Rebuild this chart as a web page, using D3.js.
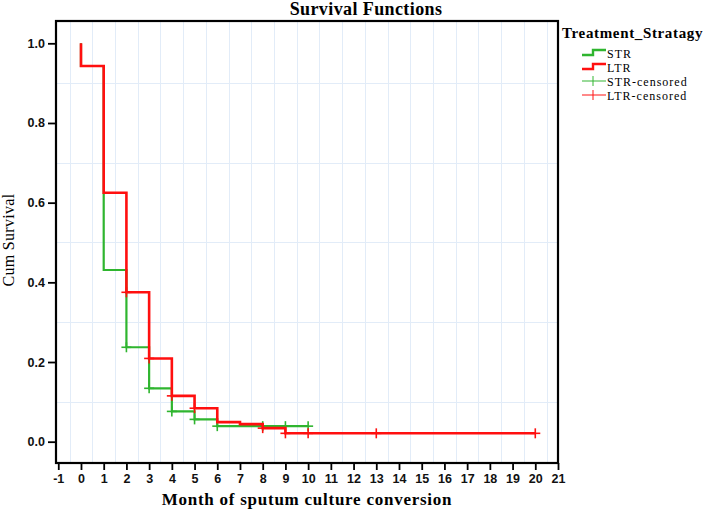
<!DOCTYPE html>
<html>
<head>
<meta charset="utf-8">
<script src="https://cdn.jsdelivr.net/npm/d3@7"></script>
<style>
  body { margin: 0; background: #fff; }
  svg { display: block; }
</style>
</head>
<body>
<svg></svg>
<script>
const svgWidth = 706,
  svgHeight = 513,
  plot = {left: 56, top: 21, right: 558, bottom: 463},
  strColor = '#2fb52f',
  ltrColor = '#ff0f0f',
  gridColor = '#e2ecf8',
  serif = 'Liberation Serif, Times New Roman, serif',
  sans = 'Liberation Sans, Arial, sans-serif';

// event times (months) and survival right after each step
const eventTimes = [0, 1, 2, 3, 4, 5, 6, 7, 8, 9];
const strSurvival = [0.943, 0.431, 0.237, 0.134, 0.076, 0.056, 0.039, 0.039, 0.039, 0.039];
const ltrSurvival = [0.943, 0.625, 0.375, 0.209, 0.115, 0.084, 0.049, 0.044, 0.034, 0.021];
const strLastTime = 10;
const ltrLastTime = 20;
const strCensored = [2, 3, 4, 5, 6, 8, 9, 10];
const ltrCensored = [2, 3, 4, 5, 8, 9, 10, 13, 20];

const xTicks = d3.range(-1, 22);
const yTicks = [0, 0.2, 0.4, 0.6, 0.8, 1.0];
const xGrid = d3.range(-0.5, 21, 1);
const yGrid = [0.1, 0.3, 0.5, 0.7, 0.9];

const legendTitle = 'Treatment_Stratagy';
const legendItems = ['STR', 'LTR', 'STR-censored', 'LTR-censored'];

const x = d3.scaleLinear().domain([-1.1, 21]).range([plot.left, plot.right]);
const y = d3.scaleLinear().domain([-0.0535, 1.056]).range([plot.bottom, plot.top]);

const svg = d3.select('svg')
  .attr('width', svgWidth)
  .attr('height', svgHeight);

//grid lines, offset half a unit from ticks like SPSS does
const grid = svg.append('g').attr('stroke', gridColor).attr('stroke-width', 1);
grid.selectAll('.vgrid').data(xGrid).enter().append('line')
  .attr('x1', d => Math.round(x(d)) + 0.5).attr('x2', d => Math.round(x(d)) + 0.5)
  .attr('y1', plot.top).attr('y2', plot.bottom);
grid.selectAll('.hgrid').data(yGrid).enter().append('line')
  .attr('y1', d => Math.round(y(d)) + 0.5).attr('y2', d => Math.round(y(d)) + 0.5)
  .attr('x1', plot.left).attr('x2', plot.right);

function stepPoints(surv, lastTime) {
  const pts = [[eventTimes[0], 1]];
  eventTimes.forEach((t, i) => pts.push([t, surv[i]]));
  pts.push([lastTime, surv[surv.length - 1]]);
  return pts;
}

function survAt(surv, t) {
  let s = 1;
  eventTimes.forEach((e, i) => { if (e <= t) s = surv[i]; });
  return s;
}

const line = d3.line()
  .x(d => x(d[0]))
  .y(d => y(d[1]))
  .curve(d3.curveStepAfter);

const series = [
  {name: 'STR', surv: strSurvival, last: strLastTime, cens: strCensored, color: strColor, width: 2.2},
  {name: 'LTR', surv: ltrSurvival, last: ltrLastTime, cens: ltrCensored, color: ltrColor, width: 2.6}
];

series.forEach(s => {
  const g = svg.append('g');
  g.append('path')
    .attr('d', line(stepPoints(s.surv, s.last)))
    .attr('fill', 'none')
    .attr('stroke', s.color)
    .attr('stroke-width', s.width);
  const marks = g.selectAll('.cens').data(s.cens).enter().append('g')
    .attr('transform', d => `translate(${x(d)},${y(survAt(s.surv, d))})`)
    .attr('stroke', s.color)
    .attr('stroke-width', 1.6);
  marks.append('line').attr('x1', -5).attr('x2', 5);
  marks.append('line').attr('y1', -5).attr('y2', 5);
});

//frame
svg.append('rect')
  .attr('x', plot.left).attr('y', plot.top)
  .attr('width', plot.right - plot.left).attr('height', plot.bottom - plot.top)
  .attr('fill', 'none').attr('stroke', '#000').attr('stroke-width', 2.2);

//axes
const xAxis = svg.append('g')
  .attr('transform', `translate(0,${plot.bottom})`)
  .call(d3.axisBottom(x).tickValues(xTicks).tickSize(7).tickPadding(4).tickFormat(d => String(d)));
const yAxis = svg.append('g')
  .attr('transform', `translate(${plot.left},0)`)
  .call(d3.axisLeft(y).tickValues(yTicks).tickSize(8).tickPadding(3).tickFormat(d => d.toFixed(1)));
[xAxis, yAxis].forEach(a => {
  a.select('.domain').remove();
  a.selectAll('.tick line').attr('stroke', '#000').attr('stroke-width', 1.8);
  a.selectAll('.tick text')
    .attr('fill', '#111')
    .style('font-family', sans)
    .style('font-weight', 'bold')
    .style('font-size', '12.5px');
});

//titles
svg.append('text')
  .attr('x', 366).attr('y', 15)
  .attr('text-anchor', 'middle')
  .style('font-family', serif).style('font-weight', 'bold').style('font-size', '18px')
  .style('letter-spacing', '0.4px')
  .text('Survival Functions');

svg.append('text')
  .attr('x', (plot.left + plot.right) / 2).attr('y', 505)
  .attr('text-anchor', 'middle')
  .style('font-family', serif).style('font-weight', 'bold').style('font-size', '17px')
  .style('letter-spacing', '0.75px')
  .text('Month of sputum culture conversion');

svg.append('text')
  .attr('transform', `translate(14,${(plot.top + plot.bottom) / 2 - 2}) rotate(-90)`)
  .attr('text-anchor', 'middle')
  .style('font-family', serif).style('font-size', '16px')
  .style('letter-spacing', '0.3px')
  .text('Cum Survival');

//legend
const legend = svg.append('g').attr('transform', 'translate(562,0)');
legend.append('text')
  .attr('x', 0).attr('y', 38)
  .style('font-family', serif).style('font-weight', 'bold').style('font-size', '15px')
  .style('letter-spacing', '0.65px')
  .text(legendTitle);

const rowY = [53, 67, 81, 95];
legendItems.forEach((name, i) => {
  const col = i % 2 === 0 ? strColor : ltrColor;
  const row = legend.append('g').attr('transform', `translate(0,${rowY[i]})`);
  if (i < 2) {
    row.append('path')
      .attr('d', 'M20,2H31V-3H44')
      .attr('fill', 'none').attr('stroke', col).attr('stroke-width', 2.4);
  } else {
    row.append('line').attr('x1', 20).attr('x2', 44).attr('stroke', col).attr('stroke-opacity', 0.7).attr('stroke-width', 1.4);
    row.append('line').attr('x1', 31).attr('x2', 31).attr('y1', -5).attr('y2', 5).attr('stroke', col).attr('stroke-opacity', 0.7).attr('stroke-width', 1.4);
  }
  row.append('text')
    .attr('x', 45).attr('y', 4.5)
    .style('font-family', serif).style('font-size', '12px')
    .style('letter-spacing', '1px')
    .text(name);
});
</script>
</body>
</html>
